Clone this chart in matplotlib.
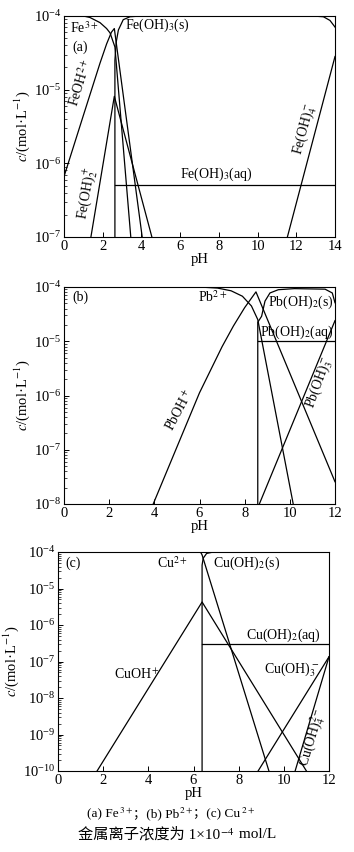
import numpy as np
import matplotlib
matplotlib.use('Agg')
import matplotlib.pyplot as plt
from matplotlib.ticker import LogLocator, MultipleLocator, NullFormatter
from matplotlib.offsetbox import TextArea, HPacker, AnnotationBbox

plt.rcParams['font.family'] = ['Liberation Serif', 'Noto Sans CJK SC']
plt.rcParams['mathtext.fontset'] = 'stix'
plt.rcParams['font.size'] = 10

# ---- data: pH and log10(c) ----
# (a) Fe3+
fe3_ph = [0, 1.0, 1.34, 1.86, 2.2, 2.38, 2.63, 3.45]
fe3_lg = [-4.0, -4.0, -4.02, -4.09, -4.17, -4.23, -4.42, -7.0]
feoh_ph = [0, 1.0, 1.86, 2.2, 2.45, 2.6, 4.04]
feoh_lg = [-6.18, -5.35, -4.64, -4.38, -4.22, -4.17, -7.0]
feoh2_ph = [1.39, 2.6, 4.54]
feoh2_lg = [-7.0, -5.09, -7.0]
fes_ph = [2.63, 2.63, 2.7, 2.81, 3.06, 3.41, 4.0, 12.5, 13.0, 13.4, 13.74, 14.0]
fes_lg = [-7.0, -4.6, -4.35, -4.19, -4.05, -4.01, -4.0, -4.0, -4.003, -4.01, -4.06, -4.15]
feaq_ph = [2.63, 14]
feaq_lg = [-6.3, -6.3]
feoh4_ph = [11.54, 14]
feoh4_lg = [-7.0, -4.55]

# (b) Pb2+
pb_ph = [0, 6.0, 6.8, 7.4, 7.9, 8.3, 8.58, 10.15]
pb_lg = [-4.0, -4.0, -4.02, -4.07, -4.17, -4.35, -4.6, -8.0]
pboh_ph = [3.95, 5.2, 6.0, 7.0, 7.5, 8.0, 8.5, 12.0]
pboh_lg = [-8.0, -6.75, -5.95, -5.1, -4.72, -4.38, -4.09, -7.59]
pbs_ph = [8.58, 8.58, 8.75, 8.9, 9.12, 9.49, 10.2, 11.56, 11.88, 12.0]
pbs_lg = [-8.0, -4.65, -4.54, -4.26, -4.11, -4.05, -4.03, -4.04, -4.11, -4.29]
pbaq_ph = [8.58, 12]
pbaq_lg = [-5.0, -5.0]
pboh3_ph = [8.65, 12]
pboh3_lg = [-8.0, -4.62]

# (c) Cu2+
cu_ph = [0, 6.25, 6.33, 6.38, 9.34]
cu_lg = [-4.0, -4.0, -4.02, -4.08, -10.0]
cuoh_ph = [1.73, 6.38, 11.0]
cuoh_lg = [-10.0, -5.37, -10.0]
cus_ph = [6.38, 6.38, 6.43, 6.58, 6.88, 7.3, 12]
cus_lg = [-10.0, -4.36, -4.17, -4.04, -4.0, -4.0, -4.0]
cuaq_ph = [6.38, 12]
cuaq_lg = [-6.53, -6.53]
cuoh3_ph = [8.86, 12]
cuoh3_lg = [-10.0, -6.87]
cuoh4_ph = [10.5, 12]
cuoh4_lg = [-10.0, -6.87]

W, H = 354, 852
fig = plt.figure(figsize=(W / 100, H / 100), dpi=100)


def make_ax(left, top, right, bottom):
    return fig.add_axes([left / W, 1 - bottom / H, (right - left) / W, (bottom - top) / H])


def style(ax, xmax, ymin):
    ax.set_yscale('log')
    ax.set_xlim(0, xmax)
    ax.set_ylim(10.0 ** ymin, 1e-4)
    ax.xaxis.set_major_locator(MultipleLocator(2))
    ax.yaxis.set_major_locator(LogLocator(base=10, numticks=20))
    ax.yaxis.set_minor_locator(LogLocator(base=10, subs=np.arange(2, 10), numticks=20))
    ax.yaxis.set_minor_formatter(NullFormatter())
    ax.tick_params(which='both', direction='in', top=False, right=False, labelsize=10.5, pad=2)
    ax.tick_params(which='major', length=3.5, width=0.7)
    ax.tick_params(which='minor', length=2, width=0.5)
    for s in ax.spines.values():
        s.set_linewidth(0.8)
    ax.set_xlabel('pH', fontsize=10.5, labelpad=0)
    ax.set_ylabel(r'$c$/(mol·L$^{-1}$)', fontsize=10.5, labelpad=1)


def line(ax, ph, lg):
    ax.plot(ph, 10.0 ** np.array(lg), color='black', lw=0.9)


def label(ax, x, lg, s, **kw):
    ax.text(x, 10.0 ** lg, s, fontsize=10, **kw)


def caption(pieces, xc, yc, size=10):
    # plain pieces keep the CJK fallback, "$...$" pieces are the superscripts
    areas = [TextArea(p, textprops=dict(fontsize=size)) for p in pieces]
    box = HPacker(children=areas, align='baseline', pad=0, sep=0)
    ab = AnnotationBbox(box, (xc / W, 1 - yc / H), xycoords='figure fraction',
                        frameon=False, box_alignment=(0.5, 0.5), pad=0)
    fig.add_artist(ab)


# ---- panel (a) ----
ax = make_ax(64, 16, 335, 237)
style(ax, 14, -7)
for ph, lg in [(fe3_ph, fe3_lg), (feoh_ph, feoh_lg), (feoh2_ph, feoh2_lg),
               (fes_ph, fes_lg), (feaq_ph, feaq_lg), (feoh4_ph, feoh4_lg)]:
    line(ax, ph, lg)
label(ax, 0.31, -4.16, r'Fe$^{3+}$', ha='left', va='center')
label(ax, 0.41, -4.42, '(a)', ha='left', va='center')
label(ax, 3.15, -4.12, r'Fe(OH)$_3$(s)', ha='left', va='center')
label(ax, 0.83, -4.91, r'FeOH$^{2+}$', ha='center', va='center', rotation=73)
label(ax, 1.19, -6.40, r'Fe(OH)$_2^+$', ha='center', va='center', rotation=80)
label(ax, 7.85, -6.15, r'Fe(OH)$_3$(aq)', ha='center', va='center')
label(ax, 12.45, -5.54, r'Fe(OH)$_4^-$', ha='center', va='center', rotation=75)

# ---- panel (b) ----
ax = make_ax(64, 287, 335, 504)
style(ax, 12, -8)
for ph, lg in [(pb_ph, pb_lg), (pboh_ph, pboh_lg), (pbs_ph, pbs_lg),
               (pbaq_ph, pbaq_lg), (pboh3_ph, pboh3_lg)]:
    line(ax, ph, lg)
label(ax, 0.35, -4.18, '(b)', ha='left', va='center')
label(ax, 6.6, -4.18, r'Pb$^{2+}$', ha='center', va='center')
label(ax, 10.5, -4.28, r'Pb(OH)$_2$(s)', ha='center', va='center')
label(ax, 10.32, -4.83, r'Pb(OH)$_2$(aq)', ha='center', va='center')
label(ax, 5.14, -6.27, r'PbOH$^+$', ha='center', va='center', rotation=62)
label(ax, 11.34, -5.77, r'Pb(OH)$_3^-$', ha='center', va='center', rotation=70)

# ---- panel (c) ----
ax = make_ax(58, 552, 329, 771)
style(ax, 12, -10)
for ph, lg in [(cu_ph, cu_lg), (cuoh_ph, cuoh_lg), (cus_ph, cus_lg),
               (cuaq_ph, cuaq_lg), (cuoh3_ph, cuoh3_lg), (cuoh4_ph, cuoh4_lg)]:
    line(ax, ph, lg)
label(ax, 0.31, -4.30, '(c)', ha='left', va='center')
label(ax, 5.05, -4.30, r'Cu$^{2+}$', ha='center', va='center')
label(ax, 8.37, -4.30, r'Cu(OH)$_2$(s)', ha='center', va='center')
label(ax, 10.0, -6.27, r'Cu(OH)$_2$(aq)', ha='center', va='center')
label(ax, 3.5, -7.37, r'CuOH$^+$', ha='center', va='center')
label(ax, 10.36, -7.23, r'Cu(OH)$_3^-$', ha='center', va='center')
label(ax, 11.25, -9.07, r'Cu(OH)$_4^{2-}$', ha='center', va='center', rotation=73)

# ---- caption ----
caption(['(a) Fe', '$^{3+}$', '；(b) Pb', '$^{2+}$', '；(c) Cu', '$^{2+}$'], 171, 814, size=9.5)
caption(['金属离子浓度为 1×10', '$^{-4}$', ' mol/L'], 177, 834, size=11)

fig.savefig('out.png', dpi=100)
